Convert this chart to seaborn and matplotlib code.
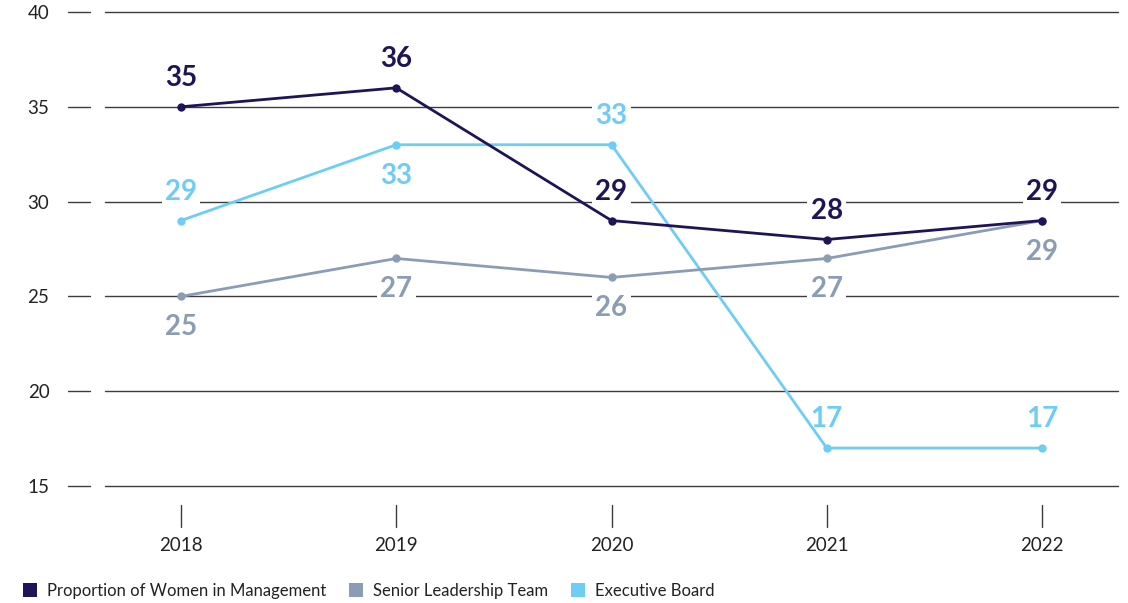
import matplotlib
matplotlib.use("Agg")
import matplotlib.pyplot as plt
import matplotlib.transforms as mtransforms
from matplotlib.patches import Patch
import seaborn as sns
import pandas as pd

years = [2018, 2019, 2020, 2021, 2022]
management = [35, 36, 29, 28, 29]
senior = [25, 27, 26, 27, 29]
executive = [29, 33, 33, 17, 17]
series_names = ["Proportion of Women in Management", "Senior Leadership Team", "Executive Board"]
colors = ["#1f1458", "#8a9db4", "#6dcdf4"]
# label placement: +1 above, -1 below
label_side = {
    series_names[0]: [1, 1, 1, 1, 1],
    series_names[1]: [-1, -1, -1, -1, -1],
    series_names[2]: [1, -1, 1, 1, 1],
}
yticks = [15, 20, 25, 30, 35, 40]

sns.set_theme(style="white")
plt.rcParams["font.family"] = ["Lato", "DejaVu Sans"]

df = pd.concat([
    pd.DataFrame({"year": years, "value": vals, "series": name})
    for name, vals in zip(series_names, [management, senior, executive])
])

fig = plt.figure(figsize=(11.28, 6.03), dpi=100)
ax = fig.add_axes([105/1128, 1 - 486/603, 1013/1128, 474/603])

grid_c = "#3c3c3c"
for y in yticks:
    ax.axhline(y, color=grid_c, lw=1.0, zorder=0, clip_on=False)

# draw in reverse so the management line sits on top
sns.lineplot(data=df, x="year", y="value", hue="series", palette=colors[::-1],
             hue_order=series_names[::-1], marker="o", markersize=6, markeredgewidth=0,
             linewidth=2.0, ax=ax, legend=False, zorder=3)

for name, vals, c in zip(series_names, [management, senior, executive], colors):
    for x, v, s in zip(years, vals, label_side[name]):
        off = 29 if s > 0 else -31
        ax.annotate(str(v), (x, v), xytext=(0, off * 0.72), textcoords="offset points",
                    ha="center", va="center", fontsize=20, fontweight="bold", color=c,
                    bbox=dict(boxstyle="square,pad=0.12", fc="white", ec="none"), zorder=1)

ax.set_xlim(2018 - 0.353, 2022 + 0.353)
ax.set_ylim(15, 40)
ax.set_xticks(years)
ax.set_xticklabels([str(y) for y in years])
ax.set_yticks(yticks)
ax.set_yticklabels([str(y) for y in yticks])
ax.tick_params(axis="y", length=0, pad=40, labelsize=13.5, labelcolor="#222222")
ax.tick_params(axis="x", length=0, pad=37, labelsize=13.5, labelcolor="#222222")
ax.set_xlabel("")
ax.set_ylabel("")
for sp in ax.spines.values():
    sp.set_visible(False)

# detached tick dashes
tr_y = mtransforms.blended_transform_factory(ax.transAxes, ax.transData)
for y in yticks:
    ax.plot([-0.0365, -0.0148], [y, y], transform=tr_y, color=grid_c, lw=1.0, clip_on=False)
tr_x = mtransforms.blended_transform_factory(ax.transData, ax.transAxes)
for x in years:
    ax.plot([x, x], [-0.040, -0.0865], transform=tr_x, color=grid_c, lw=1.0, clip_on=False)

handles = [Patch(facecolor=c, edgecolor="none", label=n) for n, c in zip(series_names, colors)]
fig.legend(handles=handles, loc="lower left", bbox_to_anchor=(0.007, -0.018), ncol=3,
           frameon=False, fontsize=12.0, handlelength=0.85, handleheight=0.85,
           handletextpad=0.6, columnspacing=1.35, labelcolor="#222222")

fig.savefig("out.png", dpi=100)
